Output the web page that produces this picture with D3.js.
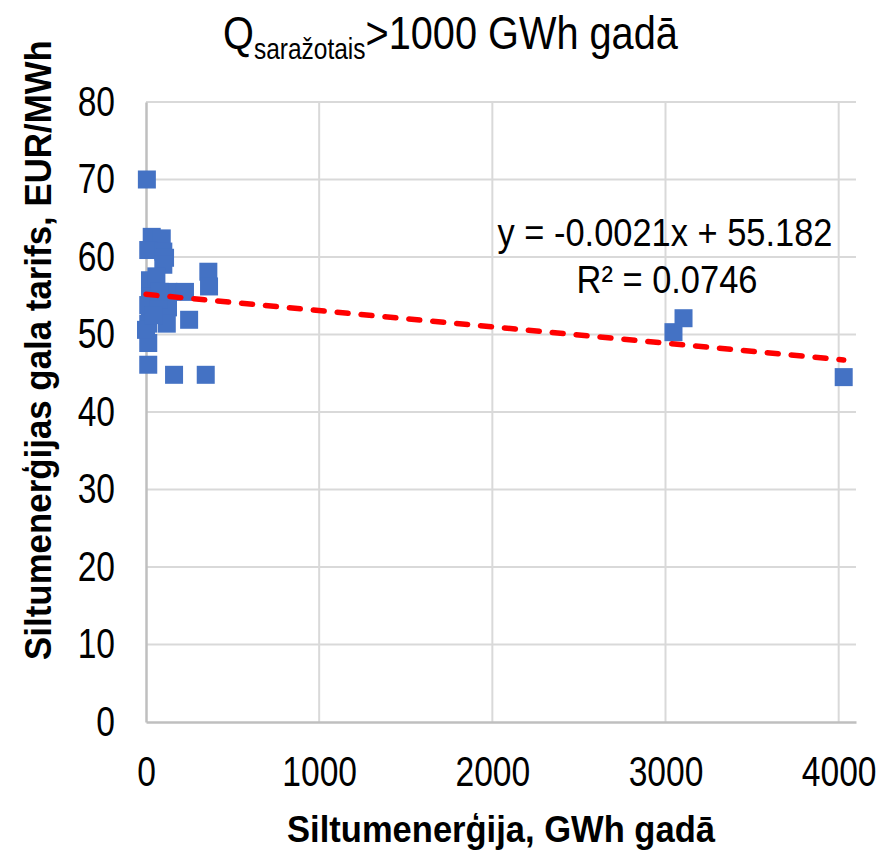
<!DOCTYPE html>
<html>
<head>
<meta charset="utf-8">
<script src="https://cdn.jsdelivr.net/npm/d3@7"></script>
<style>
  body { margin: 0; background: #fff; }
  text { font-family: "Liberation Sans", Arial, sans-serif; fill: #000; }
</style>
</head>
<body>
<script>
// data (GWh per year, EUR/MWh)
var energy = [5, 33, 91, 13, 100, 110, 100, 360, 364, 23, 23, 23, 129, 225, 127, 13, 120, 13, 249, 13, 0, 13, 162, 345, 60, 70, 45, 80, 3046, 3104, 4029];
var tariff = [70, 62.6, 62.4, 60.9, 60.7, 59.9, 59.0, 58.1, 56.2, 57.0, 54.9, 53.4, 55.5, 55.5, 53.5, 53.8, 51.4, 51.4, 51.9, 48.9, 50.6, 46.1, 44.8, 44.8, 57.5, 54.5, 52.5, 55.5, 50.3, 52.1, 44.5];
var xTicks = [0, 1000, 2000, 3000, 4000];
var yTicks = [0, 10, 20, 30, 40, 50, 60, 70, 80];
var trendSlope = -0.0021, trendIntercept = 55.182, rSquared = "0.0746";

var width = 879, height = 852;
var narrow = 0.8; // the chart uses a condensed face, squeeze Liberation Sans to match
var svg = d3.select("body").append("svg").attr("width", width).attr("height", height);

var x = d3.scaleLinear().domain([0, 4100]).range([146, 856]);
var y = d3.scaleLinear().domain([0, 80]).range([722, 102]);

// place a text centred/started at (px,py) and squeeze it to a given width
function label(px, py, anchor, size, bold, w) {
  var g = svg.append("g").attr("transform", "translate(" + px + "," + py + ")");
  var t = g.append("text").attr("text-anchor", anchor).style("font-size", size + "px");
  if (bold) t.style("font-weight", "bold");
  t.fit = function() {
    var bw = t.node().getComputedTextLength();
    t.attr("transform", "scale(" + (w / bw) + ",1)");
    return t;
  };
  return t;
}

// gridlines
svg.append("g").selectAll("line").data(yTicks.slice(1)).enter().append("line")
  .attr("x1", x(0)).attr("x2", x(4100)).attr("y1", d => y(d)).attr("y2", d => y(d))
  .attr("stroke", "#d9d9d9").attr("stroke-width", 2);
svg.append("g").selectAll("line").data(xTicks.slice(1)).enter().append("line")
  .attr("x1", d => x(d)).attr("x2", d => x(d)).attr("y1", y(0)).attr("y2", y(80))
  .attr("stroke", "#d9d9d9").attr("stroke-width", 2);

// axes
var xAxis = svg.append("g").attr("transform", "translate(0," + y(0) + ")")
  .call(d3.axisBottom(x).tickValues(xTicks).tickFormat(d3.format("d")).tickSize(0).tickPadding(34));
var yAxis = svg.append("g").attr("transform", "translate(" + x(0) + ",0)")
  .call(d3.axisLeft(y).tickValues(yTicks).tickSize(0).tickPadding(31));
[xAxis, yAxis].forEach(function(a) {
  a.select(".domain").attr("stroke", "#bfbfbf").attr("stroke-width", 2.5);
  a.selectAll("text").style("font-size", "42px").attr("fill", "#000")
    .style("font-family", '"Liberation Sans", Arial, sans-serif')
    .attr("transform", "scale(" + narrow + ",1)");
});
xAxis.selectAll("text").attr("dy", "0.71em");
yAxis.selectAll("text").attr("x", -31 / narrow);

// points
svg.append("g").selectAll("rect").data(energy).enter().append("rect")
  .attr("x", d => x(d) - 9).attr("y", (d, i) => y(tariff[i]) - 9)
  .attr("width", 18).attr("height", 18).attr("fill", "#4472c4");

// trendline
var trendX = [d3.min(energy), d3.max(energy)];
svg.append("line")
  .attr("x1", x(trendX[0])).attr("y1", y(trendIntercept + trendSlope * trendX[0]))
  .attr("x2", x(trendX[1])).attr("y2", y(trendIntercept + trendSlope * trendX[1]))
  .attr("stroke", "#ff0000").attr("stroke-width", 5.5)
  .attr("stroke-dasharray", "11,13").attr("stroke-linecap", "round");

// equation
label(665, 246, "middle", 38, false, 335).text("y = " + trendSlope + "x + " + trendIntercept).fit();
label(667, 293, "middle", 38, false, 181).text("R² = " + rSquared).fit();

// title
var title = label(223, 49, "start", 47, false, 455);
title.append("tspan").text("Q");
title.append("tspan").attr("dy", 10).style("font-size", "29px").text("saražotais");
title.append("tspan").attr("dy", -10).text(">1000 GWh gadā");
title.fit();

// axis titles
label(501, 842, "middle", 37, true, 428).text("Siltumenerģija, GWh gadā").fit();
var yt = svg.append("g").attr("transform", "translate(51,350) rotate(-90)");
var ytt = yt.append("text").attr("text-anchor", "middle").style("font-size", "37px").style("font-weight", "bold")
  .text("Siltumenerģijas gala tarifs, EUR/MWh");
ytt.attr("transform", "scale(" + (620 / ytt.node().getComputedTextLength()) + ",1)");
</script>
</body>
</html>
